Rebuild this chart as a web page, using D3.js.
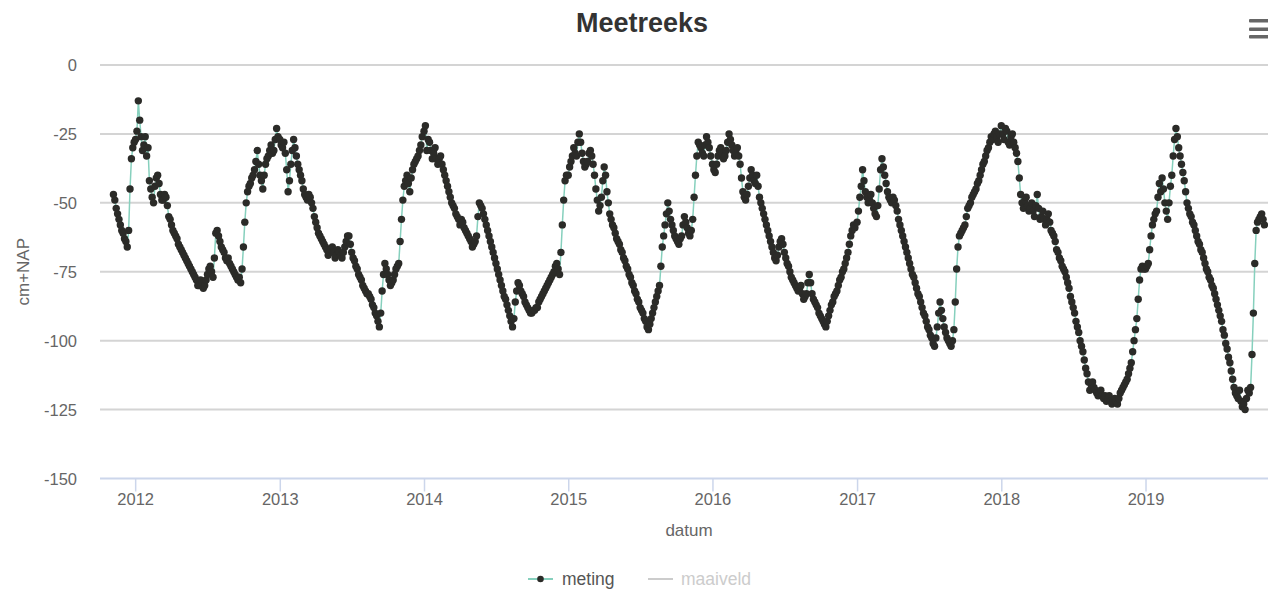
<!DOCTYPE html>
<html>
<head>
<meta charset="utf-8">
<script src="https://cdn.jsdelivr.net/npm/d3@7"></script>
<style>
  html, body { margin: 0; padding: 0; background: #fff; }
  svg { display: block; font-family: "Liberation Sans", Arial, Helvetica, sans-serif; }
</style>
</head>
<body>
<svg id="chart" width="1268" height="591"></svg>
<script>
// Grondwaterstand (cm t.o.v. NAP), two readings per week.
// Each array starts on the date in seriesStart and steps by 3.5 days.
const seriesStart = ["2011-11-07", "2012-01-02", "2013-01-01", "2014-01-01", "2015-01-01",
                     "2016-01-01", "2017-01-01", "2018-01-01", "2019-01-01"];
const stepDays = 3.5;

const meting2011 = [-47, -49, -52, -54, -56, -58, -60, -61, -63, -64, -66, -60, -45, -34, -30, -28];
const meting2012 = [-27, -24, -13, -20, -26, -31, -29, -26, -33, -30, -42, -45, -48, -50, -44, -41,
                    -40, -43, -47, -49, -49, -47, -48, -51, -55, -56, -58, -60, -61, -62, -63, -65,
                    -66, -67, -68, -69, -70, -71, -72, -73, -74, -75, -76, -77, -78, -80, -80, -78,
                    -79, -81, -80, -78, -76, -74, -73, -75, -77, -70, -61, -60, -62, -64, -66, -67,
                    -68, -70, -71, -70, -72, -73, -74, -75, -76, -77, -78, -77, -79, -74, -66, -57,
                    -50, -46, -44, -43, -41, -40, -38, -35, -31, -36, -40, -42, -45, -40, -36, -34,
                    -33, -31, -29, -32, -31, -27, -23, -26];
const meting2013 = [-27, -29, -30, -28, -32, -38, -46, -42, -36, -31, -27, -30, -33, -36, -38, -40,
                    -42, -45, -47, -48, -49, -47, -48, -50, -52, -55, -57, -59, -61, -62, -63, -64,
                    -65, -66, -67, -69, -68, -67, -66, -68, -70, -69, -67, -68, -69, -70, -68, -66,
                    -64, -62, -62, -65, -68, -70, -71, -73, -74, -76, -77, -78, -80, -81, -82, -83,
                    -83, -84, -85, -87, -88, -90, -91, -93, -95, -90, -82, -76, -72, -74, -76, -78,
                    -80, -79, -78, -76, -74, -73, -72, -64, -56, -49, -44, -42, -40, -43, -46, -41,
                    -38, -36, -35, -34, -33, -31, -29, -26];
const meting2014 = [-24, -22, -31, -27, -28, -31, -34, -32, -30, -34, -36, -34, -33, -36, -38, -40,
                    -42, -44, -46, -48, -50, -51, -52, -54, -55, -56, -58, -56, -57, -59, -60, -61,
                    -62, -63, -64, -66, -65, -64, -62, -55, -50, -51, -52, -54, -56, -58, -60, -62,
                    -64, -66, -68, -70, -72, -74, -76, -78, -80, -82, -84, -85, -87, -89, -91, -93,
                    -95, -92, -86, -82, -79, -80, -82, -83, -84, -86, -87, -88, -89, -90, -90, -89,
                    -89, -88, -88, -86, -85, -84, -83, -82, -81, -80, -79, -78, -77, -76, -75, -73,
                    -72, -74, -76, -68, -58, -49, -42, -40];
const meting2015 = [-40, -37, -35, -33, -30, -32, -33, -28, -25, -28, -32, -35, -37, -36, -35, -32,
                    -31, -33, -36, -40, -45, -49, -53, -51, -48, -42, -37, -40, -46, -50, -54, -56,
                    -58, -59, -61, -63, -64, -65, -67, -68, -70, -71, -73, -74, -76, -77, -79, -80,
                    -82, -83, -85, -86, -88, -89, -90, -92, -93, -95, -96, -94, -92, -90, -88, -86,
                    -84, -82, -80, -73, -66, -62, -58, -54, -50, -53, -56, -58, -60, -62, -63, -64,
                    -65, -63, -62, -58, -55, -57, -59, -61, -62, -60, -56, -48, -40, -33, -28, -29,
                    -30, -32, -33, -29, -26, -28, -30, -33];
const meting2016 = [-36, -38, -39, -36, -33, -31, -30, -32, -34, -33, -31, -28, -25, -27, -29, -31,
                    -33, -32, -30, -33, -36, -41, -46, -48, -49, -47, -44, -41, -38, -40, -42, -43,
                    -40, -44, -48, -50, -52, -54, -56, -58, -60, -62, -64, -66, -68, -70, -71, -69,
                    -66, -64, -63, -65, -68, -70, -72, -73, -75, -77, -78, -79, -80, -81, -82, -81,
                    -80, -83, -85, -84, -83, -79, -76, -79, -83, -85, -86, -87, -88, -90, -91, -92,
                    -93, -94, -95, -93, -91, -89, -87, -86, -84, -83, -82, -80, -78, -77, -75, -74,
                    -72, -70, -68, -65, -62, -60, -58, -59];
const meting2017 = [-57, -53, -48, -44, -38, -42, -46, -48, -50, -49, -47, -50, -52, -54, -55, -51,
                    -45, -38, -34, -37, -40, -43, -46, -48, -49, -50, -48, -49, -51, -53, -56, -58,
                    -60, -62, -64, -66, -68, -70, -72, -74, -76, -77, -79, -81, -83, -84, -86, -88,
                    -90, -91, -93, -95, -96, -98, -99, -101, -102, -99, -95, -90, -86, -89, -92, -95,
                    -97, -99, -100, -101, -102, -100, -96, -86, -74, -66, -62, -61, -60, -59, -58, -55,
                    -52, -51, -50, -48, -47, -46, -45, -43, -42, -40, -38, -36, -35, -33, -31, -30,
                    -28, -26, -27, -25, -24, -26, -28, -25];
const meting2018 = [-22, -25, -27, -23, -24, -28, -29, -26, -25, -28, -30, -32, -35, -41, -47, -50,
                    -52, -49, -48, -51, -53, -52, -50, -53, -55, -51, -47, -52, -56, -55, -53, -56,
                    -58, -56, -54, -57, -60, -61, -62, -64, -67, -68, -70, -71, -73, -74, -75, -77,
                    -79, -81, -84, -86, -88, -90, -93, -95, -97, -100, -102, -104, -107, -110, -112, -115,
                    -118, -116, -115, -117, -118, -119, -120, -119, -118, -120, -121, -120, -122, -121, -120, -122,
                    -123, -122, -121, -122, -123, -121, -119, -118, -117, -116, -115, -114, -112, -110, -108, -104,
                    -100, -96, -92, -85, -78, -74, -73, -74];
const meting2019 = [-74, -73, -72, -67, -62, -58, -56, -54, -53, -48, -43, -46, -41, -45, -50, -53,
                    -56, -50, -44, -40, -33, -27, -23, -26, -30, -33, -36, -39, -42, -46, -50, -52,
                    -54, -55, -57, -58, -60, -62, -64, -65, -67, -68, -70, -72, -74, -75, -77, -78,
                    -80, -81, -83, -85, -87, -89, -91, -93, -96, -98, -101, -103, -106, -108, -111, -114,
                    -117, -119, -120, -121, -118, -122, -124, -123, -125, -121, -118, -119, -117, -105, -90, -72,
                    -60, -57, -56, -55, -54, -56, -58];

const metingYears = [meting2011, meting2012, meting2013, meting2014, meting2015,
                     meting2016, meting2017, meting2018, meting2019];

const yTicks = [0, -25, -50, -75, -100, -125, -150];
const xTickYears = [2012, 2013, 2014, 2015, 2016, 2017, 2018, 2019];

const titleText = "Meetreeks";
const yTitle = "cm+NAP";
const xTitle = "datum";
const legendItems = ["meting", "maaiveld"];

// ---- build the series ----
const parse = d3.utcParse("%Y-%m-%d");
const DAY = 24 * 3600 * 1000;
const meting = [];
metingYears.forEach((vals, i) => {
  const t0 = parse(seriesStart[i]).getTime();
  vals.forEach((v, k) => meting.push({ date: new Date(t0 + k * stepDays * DAY), value: v }));
});

// ---- layout ----
const plot = { left: 100, right: 1285, top: 65, bottom: 478.5 };
const svg = d3.select("#chart");

const x = d3.scaleUtc()
  .domain([parse("2011-10-04"), parse("2019-12-20")])
  .range([plot.left, plot.right]);
const y = d3.scaleLinear()
  .domain([-150, 0])
  .range([plot.bottom, plot.top]);

// title
svg.append("text")
  .attr("x", 642).attr("y", 32)
  .attr("text-anchor", "middle")
  .attr("font-size", 27).attr("font-weight", "bold")
  .attr("fill", "#333333")
  .text(titleText);

// export menu icon
const menu = svg.append("g").attr("fill", "#666666");
[19, 27.5, 35].forEach(yy => menu.append("rect")
  .attr("x", 1249).attr("y", yy).attr("width", 24).attr("height", 3.6).attr("rx", 1));

// horizontal grid lines
const yAxis = d3.axisLeft(y).tickValues(yTicks).tickFormat(d => String(d))
  .tickSize(0).tickPadding(0);
const gy = svg.append("g").attr("transform", `translate(${plot.left},0)`);
gy.selectAll("line.grid")
  .data(yTicks.filter(v => v !== -150))
  .join("line")
  .attr("class", "grid")
  .attr("x1", 0).attr("x2", plot.right - plot.left)
  .attr("y1", d => y(d)).attr("y2", d => y(d))
  .attr("stroke", "#d4d4d4").attr("stroke-width", 2);

// y tick labels
gy.call(yAxis);
gy.select(".domain").remove();
gy.selectAll(".tick text")
  .attr("x", -23).attr("dy", "0.65em").attr("y", -5)
  .attr("font-size", 16.5)
  .attr("font-family", "Liberation Sans, Arial, sans-serif")
  .attr("fill", "#666666");

// x axis
const xAxis = d3.axisBottom(x)
  .tickValues(xTickYears.map(yr => new Date(Date.UTC(yr, 0, 1))))
  .tickFormat(d3.utcFormat("%Y"))
  .tickSize(13).tickPadding(2);
const gx = svg.append("g").attr("transform", `translate(0,${plot.bottom})`).call(xAxis);
gx.select(".domain")
  .attr("stroke", "#ccd6eb").attr("stroke-width", 2)
  .attr("d", `M${plot.left},0H${plot.right}`);
gx.selectAll(".tick line").attr("stroke", "#ccd6eb").attr("stroke-width", 1.5);
gx.selectAll(".tick text")
  .attr("font-size", 16.5)
  .attr("font-family", "Liberation Sans, Arial, sans-serif")
  .attr("fill", "#666666");

// axis titles
svg.append("text")
  .attr("x", 689).attr("y", 536)
  .attr("text-anchor", "middle")
  .attr("font-size", 17).attr("fill", "#666666")
  .text(xTitle);
svg.append("text")
  .attr("transform", `translate(29,${(plot.top + plot.bottom) / 2}) rotate(-90)`)
  .attr("text-anchor", "middle")
  .attr("font-size", 17).attr("fill", "#666666")
  .text(yTitle);

// measurement series
svg.append("clipPath").attr("id", "plotclip")
  .append("rect").attr("x", plot.left).attr("y", plot.top - 10)
  .attr("width", plot.right - plot.left).attr("height", plot.bottom - plot.top + 20);
const series = svg.append("g").attr("clip-path", "url(#plotclip)");

const line = d3.line().x(d => x(d.date)).y(d => y(d.value));
series.append("path")
  .datum(meting)
  .attr("d", line)
  .attr("fill", "none")
  .attr("stroke", "#86d0bd")
  .attr("stroke-width", 1.5);

series.selectAll("circle")
  .data(meting)
  .join("circle")
  .attr("cx", d => x(d.date))
  .attr("cy", d => y(d.value))
  .attr("r", 3.7)
  .attr("fill", "#2b2b28");

// legend
const lg = svg.append("g");
lg.append("line").attr("x1", 528).attr("x2", 553).attr("y1", 579).attr("y2", 579)
  .attr("stroke", "#86d0bd").attr("stroke-width", 2);
lg.append("circle").attr("cx", 540.5).attr("cy", 579).attr("r", 3.3).attr("fill", "#2b2b28");
lg.append("text").attr("x", 562).attr("y", 585).attr("font-size", 17.5)
  .attr("fill", "#555555").text(legendItems[0]);
lg.append("line").attr("x1", 648).attr("x2", 673).attr("y1", 579).attr("y2", 579)
  .attr("stroke", "#cccccc").attr("stroke-width", 2);
lg.append("text").attr("x", 681).attr("y", 585).attr("font-size", 17.5)
  .attr("fill", "#cccccc").text(legendItems[1]);
</script>
</body>
</html>
